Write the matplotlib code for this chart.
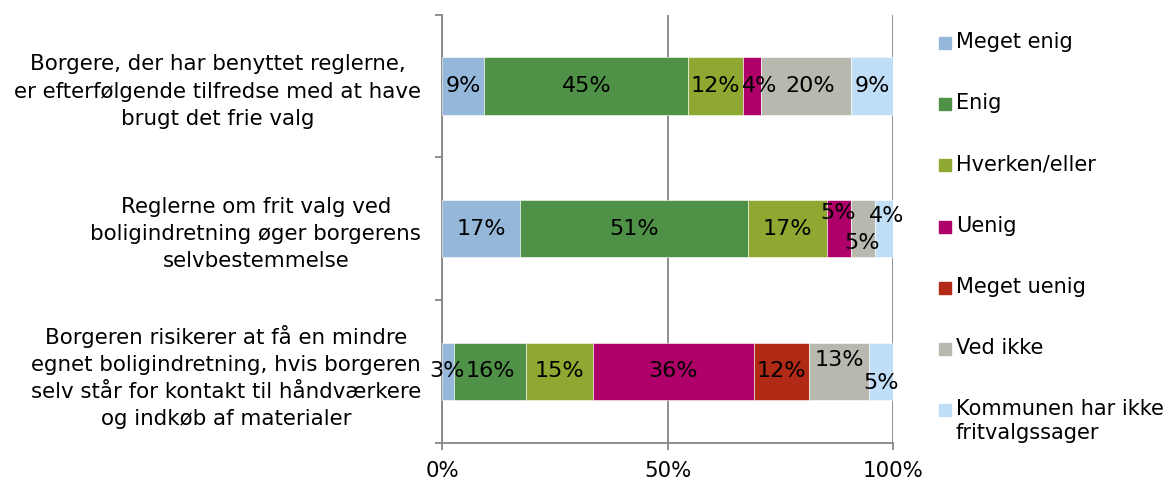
import matplotlib.pyplot as plt
from matplotlib.patches import Rectangle
import numpy as np

categories = [
    'Borgere, der har benyttet reglerne,\ner efterfølgende tilfredse med at have\nbrugt det frie valg',
    'Reglerne om frit valg ved\nboligindretning øger borgerens\nselvbestemmelse',
    'Borgeren risikerer at få en mindre\negnet boligindretning, hvis borgeren\nselv står for kontakt til håndværkere\nog indkøb af materialer',
]
series = ['Meget enig', 'Enig', 'Hverken/eller', 'Uenig', 'Meget uenig',
          'Ved ikke', 'Kommunen har ikke\nfritvalgssager']
colors = ['#95b8da', '#4e9147', '#8fa832', '#ae0068', '#b02a15', '#b9b8af', '#c0def7']

# percentages per series, one value per category (top to bottom)
meget_enig = [9.4, 17.3, 2.7]
enig = [45.2, 50.6, 16.0]
hverken = [12.2, 17.4, 14.7]
uenig = [3.9, 5.3, 35.8]
meget_uenig = [0.0, 0.0, 12.2]
ved_ikke = [20.0, 5.3, 13.3]
kommunen = [9.3, 4.0, 5.3]
values = [meget_enig, enig, hverken, uenig, meget_uenig, ved_ikke, kommunen]

# nudges (pixels, up positive) for crowded labels, keyed by (category, series)
label_nudge = {
    (0, 3): (8, 0), (0, 5): (4, 0),
    (1, 3): (-1, 16), (1, 5): (0, -14), (1, 6): (3, 13),
    (2, 0): (-1, 0), (2, 5): (0, 11), (2, 6): (0, -12),
}

FS = 15.4
grey = '#868686'

fig = plt.figure(figsize=(11.75, 4.8), dpi=100)
ax = fig.add_axes([442 / 1175, 1 - 442.5 / 480, 451 / 1175, 427.8 / 480])

ypos = np.arange(len(categories))
left = np.zeros(len(categories))
for si, (name, vals, col) in enumerate(zip(series, values, colors)):
    vals = np.array(vals)
    ax.barh(ypos, vals, left=left, height=0.4, color=col,
            edgecolor='white', linewidth=0.4, zorder=3)
    for ci, v in enumerate(vals):
        if v <= 0:
            continue
        dx, dy = label_nudge.get((ci, si), (0, 0))
        ax.annotate(f'{v:.0f}%', (left[ci] + v / 2, ypos[ci]),
                    xytext=(dx, dy), textcoords='offset pixels',
                    ha='center', va='center', fontsize=16, zorder=4)
    left += vals

ax.set_xlim(0, 100)
ax.set_ylim(len(categories) - 0.5, -0.5)
ax.set_xticks([0, 50, 100], labels=['0%', '50%', '100%'])
ax.xaxis.grid(True, color=grey, linewidth=1.3, zorder=0)
ax.set_yticks(ypos, labels=categories, multialignment='center', linespacing=1.45)
ax.set_yticks(np.arange(len(categories) + 1) - 0.5, minor=True)
ax.tick_params(axis='y', which='major', length=0, pad=15, labelsize=FS)
ax.tick_params(axis='y', which='minor', length=5, width=1.3, color=grey)
ax.tick_params(axis='x', length=5, width=1.3, color=grey, pad=8, labelsize=FS)
for side in ['top', 'right']:
    ax.spines[side].set_visible(False)
for side in ['left', 'bottom']:
    ax.spines[side].set_color(grey)
    ax.spines[side].set_linewidth(1.3)

# legend drawn by hand so the square sits on the first text line
for i, (name, col) in enumerate(zip(series, colors)):
    yc = 43 + 61.2 * i
    fig.patches.append(Rectangle((939 / 1175, 1 - (yc + 6) / 480), 12 / 1175, 12 / 480,
                                 transform=fig.transFigure, color=col))
    fig.text(956 / 1175, 1 - (yc - 11) / 480, name, fontsize=15, va='top',
             ha='left', linespacing=1.25)

fig.savefig('out.png', dpi=100)
